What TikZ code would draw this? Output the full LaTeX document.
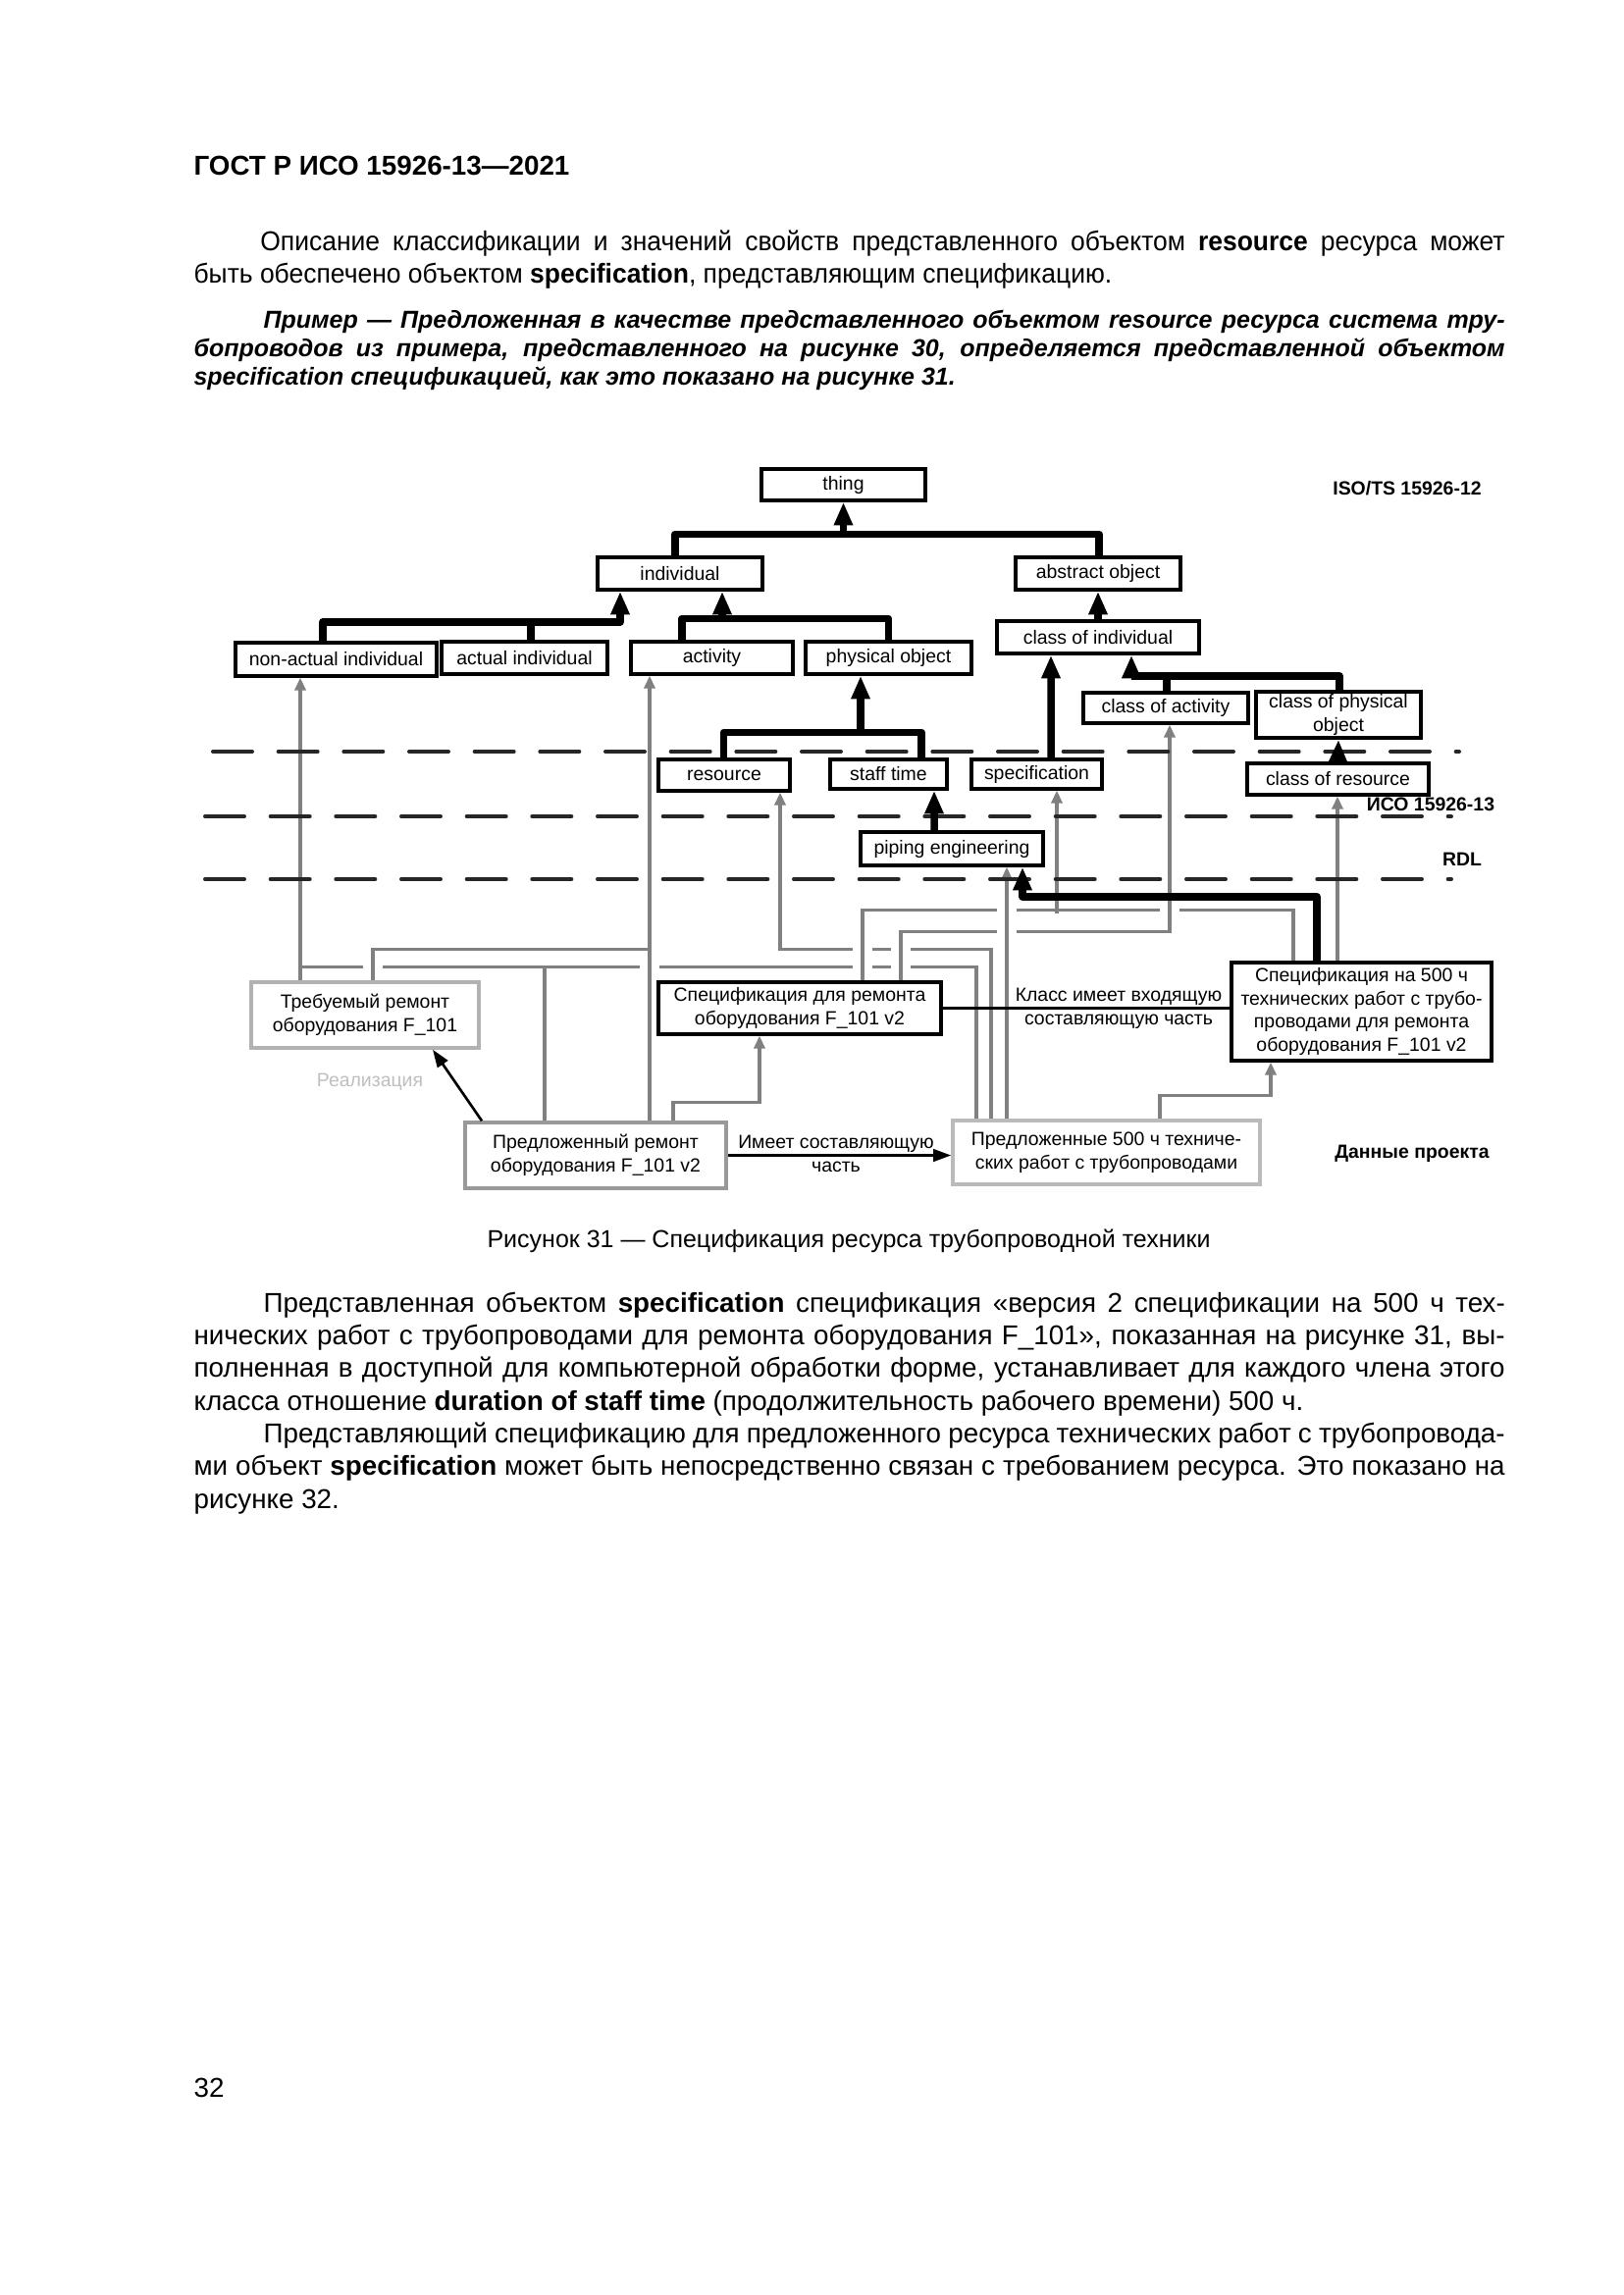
\documentclass[tikz,border=0pt]{standalone}
\usepackage{fontspec}
\setmainfont{Liberation Sans}
\usetikzlibrary{arrows.meta,calc}
\pgfdeclarelayer{bg}\pgfdeclarelayer{back}\pgfdeclarelayer{mid}
\pgfsetlayers{bg,back,mid,main}
\newdimen\textW \textW=481pt
\newcommand\jl[1]{\hbox to\textW{#1}}
\newcommand\nl[1]{\hbox{#1}}
\newcommand\ind{\hskip25.6pt}
\begin{document}
\begin{tikzpicture}[x=0.36pt,y=-0.36pt,
  txt/.style={anchor=base west,inner sep=0pt},
  cls/.style={draw=black,line width=1.25pt,fill=white,inner sep=0pt,align=center,font=\fontsize{7}{8.6}\selectfont},
  inst/.style={cls,draw=black!38},
  lab/.style={inner sep=0pt,align=center,font=\fontsize{7}{8.6}\selectfont},
  labb/.style={inner sep=0pt,align=center,font=\fontsize{7}{8.6}\selectfont\bfseries},
  tb/.style={draw=black,line width=2.7pt,line join=round},
  gr/.style={draw=black!50,line width=1.1pt},
  bl/.style={draw=black,line width=0.95pt},
  halo/.style={preaction={draw=white,line width=7.2pt,-}},
  haloE/.style={preaction={draw=white,line width=7.2pt,-,shorten >=4.5pt}},
  bigtip/.style={-{Triangle[width=6.5pt,length=8.5pt]}},
  smtip/.style={-{Triangle[width=4pt,length=4.6pt]}},
  bktip/.style={-{Triangle[width=4.5pt,length=6.5pt]}},
  dsh/.style={draw=black!85,line width=1.44pt,line cap=round,dash pattern=on 14.4pt off 9.6pt}
]
\begin{pgfonlayer}{bg}\fill[white] (0,0) rectangle (1654,2339);\end{pgfonlayer}
\useasboundingbox (0,0) rectangle (1654,2339);

% ---------- page text ----------
\node[txt,font=\fontsize{10}{12}\selectfont\bfseries] (hdr) at (197,178) {ГОСТ Р ИСО 15926-13—2021};

\node[txt,font=\fontsize{10}{12.2}\selectfont] (par1) at (197,255) {\vtop{\baselineskip=12.2pt
\hbox{\scalebox{0.953}[1]{\hbox to 504.7pt{\ind Описание классификации и значений свойств представленного объектом \textbf{resource} ресурса может}}}
\hbox{\scalebox{0.953}[1]{\hbox{быть обеспечено объектом \textbf{specification}, представляющим спецификацию.}}}}};

\node[txt,font=\fontsize{9}{10.6}\selectfont\bfseries\itshape] (ex) at (197,334) {\vtop{\baselineskip=10.6pt
\jl{\ind Пример — Предложенная в качестве представленного объектом resource ресурса система тру-}
\jl{бопроводов из примера, представленного на рисунке 30, определяется представленной объектом}
\nl{specification спецификацией, как это показано на рисунке 31.}}};

\node[anchor=base,inner sep=0pt,font=\fontsize{9}{11}\selectfont] (cap) at (865,1271) {Рисунок 31 — Спецификация ресурса трубопроводной техники};

\node[txt,font=\fontsize{10}{12}\selectfont] (par3) at (197,1337) {\vtop{\baselineskip=12pt
\jl{\ind Представленная объектом \textbf{specification} спецификация «версия 2 спецификации на 500 ч тех-}
\jl{нических работ с трубопроводами для ремонта оборудования F\_101», показанная на рисунке 31, вы-}
\jl{полненная в доступной для компьютерной обработки форме, устанавливает для каждого члена этого}
\nl{класса отношение \textbf{duration of staff time} (продолжительность рабочего времени) 500 ч.}
\jl{\ind Представляющий спецификацию для предложенного ресурса технических работ с трубопровода-}
\jl{ми объект \textbf{specification} может быть непосредственно связан с требованием ресурса. Это показано на}
\nl{рисунке 32.}}};

\node[txt,font=\fontsize{10}{12}\selectfont] (pg) at (197,2137) {32};

% ---------- diagram nodes ----------
\node[cls,minimum width=60.12pt,minimum height=11.52pt] (thing) at (859.5,494) {thing};
\node[cls,minimum width=60.48pt,minimum height=11.88pt] (ind) at (693,584.5) {individual};
\node[cls,minimum width=60.48pt,minimum height=11.88pt] (abs) at (1119,584.5) {abstract object};
\node[cls,minimum width=73.8pt,minimum height=12.24pt] (nai) at (342.5,672) {non-actual individual};
\node[cls,minimum width=60.84pt,minimum height=11.88pt] (ai) at (534.5,670.5) {actual individual};
\node[cls,minimum width=59.4pt,minimum height=11.88pt] (act) at (725.5,670.5) {activity};
\node[cls,minimum width=60.84pt,minimum height=11.88pt] (phy) at (905.5,670.5) {physical object};
\node[cls,minimum width=74.16pt,minimum height=11.88pt] (coi) at (1119,649.5) {class of individual};
\node[cls,minimum width=60.48pt,minimum height=11.16pt] (coa) at (1188,721.5) {class of activity};
\node[cls,minimum width=60.48pt,minimum height=16.92pt] (cop) at (1364,728.5) {class of physical\\object};
\node[cls,minimum width=48.24pt,minimum height=11.52pt] (res) at (738,790) {resource};
\node[cls,minimum width=42.84pt,minimum height=10.8pt] (stf) at (905.5,789) {staff time};
\node[cls,minimum width=47.88pt,minimum height=10.8pt] (spec) at (1056.5,789) {specification};
\node[cls,minimum width=66.6pt,minimum height=11.52pt] (cor) at (1363.5,794) {class of resource};
\node[cls,minimum width=66.96pt,minimum height=12.24pt] (pip) at (970,865) {piping engineering};
\node[inst,draw=black!30,minimum width=83.52pt,minimum height=24.12pt] (treb) at (372,1034.5) {Требуемый ремонт\\оборудования F\_101};
\node[inst,draw=black!40,minimum width=95.76pt,minimum height=24.12pt] (pr) at (607,1177.5) {Предложенный ремонт\\оборудования F\_101 v2};
\node[cls,minimum width=103.68pt,minimum height=19.08pt] (sdr) at (815,1027.5) {Спецификация для ремонта\\оборудования F\_101 v2};
\node[cls,minimum width=95.4pt,minimum height=36pt] (s500) at (1387.5,1031) {Спецификация на 500 ч\\технических работ с трубо-\\проводами для ремонта\\оборудования F\_101 v2};
\node[inst,draw=black!27,minimum width=112.68pt,minimum height=23.4pt] (p500) at (1127.5,1174.5) {Предложенные 500 ч техниче-\\ских работ с трубопроводами};

\node[labb] (iso12) at (1434,498) {ISO/TS 15926-12};
\node[labb] (iso13) at (1458,820) {ИСО 15926-13};
\node[labb] (rdl) at (1490,876) {RDL};
\node[labb] (proj) at (1439,1176) {Данные проекта};
\node[lab,text=black!25] (real) at (377,1103) {Реализация};
\node[lab] (lhas) at (852,1176) {Имеет составляющую\\часть};
\node[lab] (lcls) at (1140,1028) {Класс имеет входящую\\составляющую часть};

% ---------- dashed layer boundaries ----------
\begin{pgfonlayer}{mid}
\draw[dsh] (217,766) -- (1487,766);
\draw[dsh] (209,832) -- (1479,832);
\draw[dsh] (209,896) -- (1479,896);
\end{pgfonlayer}

% ---------- grey classification connectors ----------
\begin{pgfonlayer}{back}
\coordinate (jna) at ($(nai.south)+(-36.5,295)$);
\draw[gr,smtip] ($(treb.north)+(-66,0)$) -- ($(nai.south)+(-36.5,0)$);
\draw[gr] ($(pr.north)+(-52,0)$) |- (jna);
\draw[gr] ($(p500.north)+(-132.5,0)$) |- (jna);
\draw[gr,halo,smtip] ($(p500.north)+(-117.5,0)$) |- ($(res.south)+(57,160)$) -- ($(res.south)+(57,0)$);
\draw[gr,halo] ($(sdr.north)+(64,0)$) |- ($(s500.north)+(-69.5,-52)$) -- ($(s500.north)+(-69.5,0)$);
\draw[gr,smtip] ($(spec.south)+(20.5,125)$) -- ($(spec.south)+(20.5,0)$);
\draw[gr,halo,smtip] ($(sdr.north)+(103,0)$) |- ($(coa.south)+(4,211)$) -- ($(coa.south)+(4,0)$);
\draw[gr,halo,smtip] ($(pr.north)+(55,0)$) -- ($(act.south)+(-63.5,0)$);
\draw[gr,haloE] ($(treb.north)+(8,0)$) |- ($(act.south)+(-63.5,279)$);
\draw[gr,halo,smtip] ($(p500.north)+(-101.5,0)$) -- ($(pip.south)+(56,0)$);
\draw[gr,smtip] ($(pr.north)+(79,0)$) |- ($(sdr.south)+(-41,68)$) -- ($(sdr.south)+(-41,0)$);
\draw[gr,smtip] ($(p500.north)+(54.5,0)$) |- ($(s500.south)+(-92.5,34)$) -- ($(s500.south)+(-92.5,0)$);
\draw[gr,smtip] ($(s500.north)+(-24.5,0)$) -- ($(cor.south)+(-0.5,0)$);
\end{pgfonlayer}

% ---------- thick specialization connectors ----------
\draw[tb] ($(ind.north)+(-5,0)$) |- ($(abs.north)+(1,-22)$) -- ($(abs.north)+(1,0)$);
\draw[tb,bigtip] ($(thing.south)+(0,36)$) -- (thing.south);
\draw[tb,bigtip] ($(nai.north)+(-13.5,0)$) |- ($(ind.south)+(-61,31)$) -- ($(ind.south)+(-61,0)$);
\draw[tb] ($(ai.north)+(6.5,0)$) -- ++(0,-22);
\draw[tb] ($(act.north)+(-30.5,0)$) |- ($(phy.north)+(0,-22)$) -- (phy.north);
\draw[tb,bigtip] ($(ind.south)+(43,31)$) -- ($(ind.south)+(43,0)$);
\draw[tb,bigtip] (coi.north) -- (abs.south);
\draw[tb] ($(coa.north)+(1,0)$) -- ++(0,-19);
\draw[tb,bigtip] ($(cop.north)+(1,0)$) |- ($(coi.south)+(34,21)$) -- ($(coi.south)+(34,0)$);
\draw[tb,bigtip] ($(spec.north)+(14.5,0)$) -- ($(coi.south)+(-48,0)$);
\draw[tb,bigtip] (cor.north) -- (cop.south);
\draw[tb] ($(res.north)+(-0.5,0)$) |- ($(stf.north)+(33.5,-26)$) -- ($(stf.north)+(33.5,0)$);
\draw[tb,bigtip] ($(phy.south)+(-28.5,61)$) -- ($(phy.south)+(-28.5,0)$);
\draw[tb,bigtip] ($(pip.north)+(-18,0)$) -- ($(stf.south)+(46.5,0)$);
\draw[tb,bigtip] ($(s500.north)+(-45.5,0)$) |- ($(pip.south)+(72,30)$) -- ($(pip.south)+(72,0)$);

% ---------- black relations ----------
\draw[bl,bktip] ($(pr.north)+(-116,0)$) -- ($(treb.south)+(69,0)$);
\draw[bl,bktip] (pr.east) -- (pr.east -| p500.west);
\draw[bl] (sdr.east) -- (sdr.east -| s500.west);
\end{tikzpicture}
\end{document}
